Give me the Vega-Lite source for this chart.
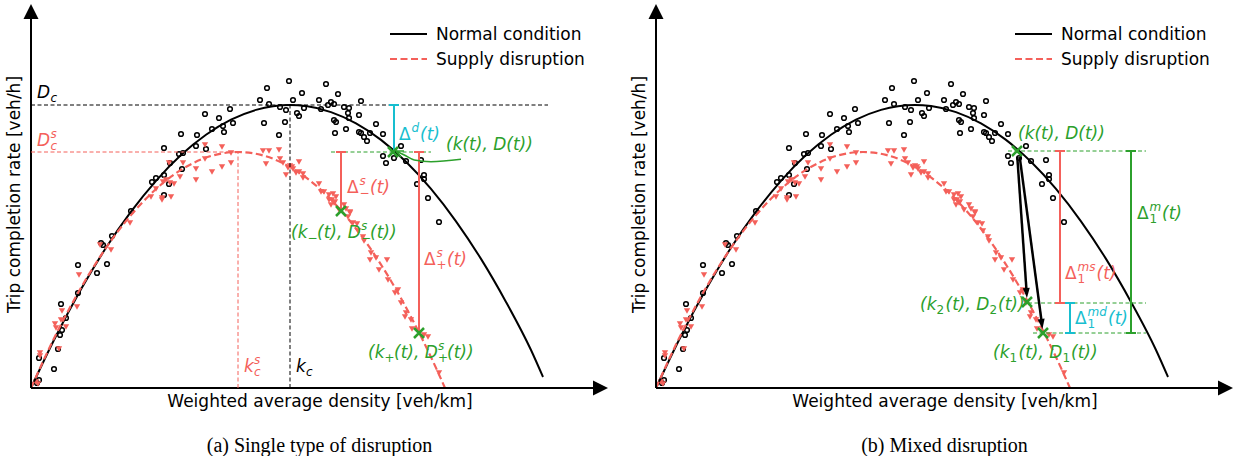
{
"$schema":"https://vega.github.io/schema/vega-lite/v6.json",
"background":"white",
"padding":{"left":5,"top":0,"right":0,"bottom":0},
"spacing":22,
"datasets":{
"normal":[{"k":0,"D":0},{"k":25,"D":52},{"k":50,"D":98.7},{"k":75,"D":140.2},{"k":100,"D":176.3},{"k":125,"D":207.2},{"k":150,"D":232.9},{"k":175,"D":253.2},{"k":200,"D":268.3},{"k":225,"D":278.1},{"k":259,"D":283},{"k":275,"D":281.9},{"k":300,"D":275.9},{"k":325,"D":264.6},{"k":350,"D":248.1},{"k":375,"D":226.2},{"k":400,"D":199.1},{"k":425,"D":166.7},{"k":450,"D":129.1},{"k":475,"D":86.1},{"k":500,"D":38},{"k":512,"D":11}],
"supply":[{"k":0,"D":0},{"k":20,"D":43.4},{"k":40,"D":82.4},{"k":60,"D":117},{"k":80,"D":147.2},{"k":100,"D":172.9},{"k":120,"D":194.3},{"k":140,"D":211.3},{"k":160,"D":223.8},{"k":180,"D":232},{"k":207,"D":236},{"k":230,"D":233.1},{"k":250,"D":225.8},{"k":270,"D":214.1},{"k":290,"D":198.1},{"k":310,"D":177.6},{"k":330,"D":152.7},{"k":350,"D":123.4},{"k":370,"D":89.7},{"k":390,"D":51.5},{"k":405,"D":20.1},{"k":414,"D":0}],
"obs_n":[{"k":258,"D":307},{"k":236,"D":300},{"k":271,"D":295},{"k":229,"D":288},{"k":238,"D":284},{"k":262,"D":288},{"k":249,"D":281},{"k":255,"D":278},{"k":273,"D":280},{"k":266,"D":275},{"k":268,"D":272},{"k":233,"D":265},{"k":254,"D":266},{"k":248,"D":253},{"k":199,"D":279},{"k":174,"D":274},{"k":188,"D":270},{"k":202,"D":265},{"k":181,"D":259},{"k":192,"D":262},{"k":193,"D":256},{"k":150,"D":254},{"k":166,"D":253},{"k":165,"D":242},{"k":175,"D":239},{"k":133,"D":240},{"k":152,"D":235},{"k":148,"D":234},{"k":139,"D":225},{"k":151,"D":219},{"k":121,"D":206},{"k":125,"D":210},{"k":133,"D":213},{"k":138,"D":204},{"k":133,"D":193},{"k":100,"D":177},{"k":70,"D":145},{"k":72,"D":143},{"k":81,"D":152},{"k":76,"D":124},{"k":66,"D":115},{"k":47,"D":123},{"k":47,"D":95},{"k":30,"D":84},{"k":35,"D":70},{"k":31,"D":58},{"k":29,"D":53},{"k":27,"D":39},{"k":23,"D":19},{"k":8,"D":8},{"k":6,"D":5},{"k":8,"D":30},{"k":295,"D":304},{"k":307,"D":294},{"k":330,"D":287},{"k":288,"D":288},{"k":300,"D":286},{"k":303,"D":284},{"k":297,"D":283},{"k":313,"D":281},{"k":318,"D":280},{"k":317,"D":275},{"k":328,"D":273},{"k":318,"D":270},{"k":303,"D":268},{"k":305,"D":266},{"k":345,"D":264},{"k":315,"D":259},{"k":328,"D":256},{"k":330,"D":255},{"k":352,"D":254},{"k":304,"D":255},{"k":333,"D":251},{"k":336,"D":247},{"k":339,"D":255},{"k":370,"D":242},{"k":352,"D":232},{"k":355,"D":225},{"k":363,"D":230},{"k":375,"D":227},{"k":390,"D":228},{"k":386,"D":204},{"k":393,"D":213},{"k":393,"D":209},{"k":397,"D":190},{"k":408,"D":166},{"k":290,"D":279}],
"obs_s":[{"k":5,"D":6},{"k":7,"D":4},{"k":9,"D":35},{"k":9,"D":32},{"k":28,"D":39},{"k":25,"D":60},{"k":30,"D":68},{"k":24,"D":64},{"k":35,"D":61},{"k":31,"D":77},{"k":46,"D":81},{"k":48,"D":113},{"k":69,"D":143},{"k":80,"D":138},{"k":99,"D":165},{"k":125,"D":199},{"k":120,"D":191},{"k":131,"D":190},{"k":131,"D":188},{"k":140,"D":191},{"k":132,"D":206},{"k":135,"D":208},{"k":143,"D":204},{"k":139,"D":205},{"k":149,"D":211},{"k":152,"D":225},{"k":138,"D":225},{"k":165,"D":208},{"k":165,"D":219},{"k":174,"D":229},{"k":174,"D":243},{"k":181,"D":216},{"k":191,"D":221},{"k":200,"D":225},{"k":191,"D":241},{"k":200,"D":235},{"k":232,"D":237},{"k":238,"D":237},{"k":248,"D":238},{"k":249,"D":229},{"k":235,"D":224},{"k":259,"D":222},{"k":255,"D":213},{"k":261,"D":221},{"k":268,"D":226},{"k":265,"D":215},{"k":272,"D":210},{"k":288,"D":204},{"k":290,"D":196},{"k":252,"D":225},{"k":257,"D":220},{"k":262,"D":219},{"k":268,"D":216},{"k":272,"D":214},{"k":293,"D":196},{"k":298,"D":193},{"k":301,"D":188},{"k":303,"D":185},{"k":308,"D":178},{"k":319,"D":176},{"k":317,"D":171},{"k":322,"D":165},{"k":327,"D":157},{"k":332,"D":151},{"k":340,"D":135},{"k":339,"D":128},{"k":345,"D":130},{"k":356,"D":128},{"k":348,"D":118},{"k":357,"D":108},{"k":367,"D":98},{"k":375,"D":75},{"k":380,"D":68},{"k":393,"D":53},{"k":397,"D":51},{"k":408,"D":15},{"k":302,"D":194},{"k":305,"D":191},{"k":298,"D":188},{"k":304,"D":186},{"k":300,"D":183},{"k":313,"D":183},{"k":315,"D":179},{"k":319,"D":175},{"k":326,"D":164},{"k":333,"D":147},{"k":364,"D":95},{"k":370,"D":85},{"k":374,"D":71},{"k":381,"D":59}],
"axes":[{"k":0,"D":0,"k2":565,"D2":0},{"k":0,"D":0,"k2":0,"D2":372}],
"legend":[{"k":405,"D":348,"txt":"Normal condition"},{"k":405,"D":323,"txt":"Supply disruption"}]
},
"hconcat":[
{
"width":577,"height":388,
"title":{"text":"(a) Single type of disruption","orient":"bottom","font":"Liberation Serif","fontSize":20,"fontWeight":"normal","color":"#000000","offset":27},
"encoding":{"x":{"field":"k","type":"quantitative","scale":{"domain":[0,577],"nice":false,"zero":false},"axis":{"title":"Weighted average density [veh/km]"}},"y":{"field":"D","type":"quantitative","scale":{"domain":[0,388],"nice":false,"zero":false},"axis":{"title":"Trip completion rate [veh/h]"}}},
"layer":[
{"data":{"name":"obs_n"},"mark":{"type":"point","shape":"circle","filled":false,"stroke":"#000000","strokeWidth":1.5,"size":22,"opacity":1}},
{"data":{"name":"obs_s"},"mark":{"type":"point","shape":"triangle-down","filled":true,"fill":"#f4605a","strokeWidth":0,"size":40,"opacity":1}},
{"data":{"name":"normal"},"mark":{"type":"line","stroke":"#000000","strokeWidth":2,"interpolate":"monotone"}},
{"data":{"name":"supply"},"mark":{"type":"line","stroke":"#f4605a","strokeWidth":2.2,"strokeDash":[7,3.5],"interpolate":"monotone"}},
{"data":{"name":"axes"},"mark":{"type":"rule","color":"#000000","strokeWidth":2},"encoding":{"x2":{"field":"k2"},"y2":{"field":"D2"}}},
{"data":{"values":[{"k":0,"D":376.5}]},"mark":{"type":"point","shape":"M0,-1L1,1L-1,1Z","filled":true,"fill":"#000000","strokeWidth":0,"size":225,"opacity":1}},
{"data":{"values":[{"k":569.5,"D":0}]},"mark":{"type":"point","shape":"M0,-1L1,1L-1,1Z","filled":true,"fill":"#000000","strokeWidth":0,"size":225,"opacity":1,"angle":90}},
{"data":{"values":[{"k":0,"D":283,"k2":517,"D2":283},{"k":259,"D":0,"k2":259,"D2":283}]},"mark":{"type":"rule","color":"#000000","strokeWidth":1,"strokeDash":[4,2.5]},"encoding":{"x2":{"field":"k2"},"y2":{"field":"D2"}}},
{"data":{"values":[{"k":0,"D":236,"k2":207,"D2":236},{"k":207,"D":0,"k2":207,"D2":236}]},"mark":{"type":"rule","color":"#f4605a","strokeWidth":1,"strokeDash":[4,2.5]},"encoding":{"x2":{"field":"k2"},"y2":{"field":"D2"}}},
{"data":{"values":[{"k":300,"D":236,"k2":400,"D2":236}]},"mark":{"type":"rule","color":"#2ca02c","strokeWidth":1,"strokeDash":[4,2.5]},"encoding":{"x2":{"field":"k2"},"y2":{"field":"D2"}}},
{"data":{"values":[{"k":363,"D":236,"k2":363,"D2":283},{"k":358,"D":283,"k2":368,"D2":283}]},"mark":{"type":"rule","color":"#17becf","strokeWidth":2},"encoding":{"x2":{"field":"k2"},"y2":{"field":"D2"}}},
{"data":{"values":[{"k":310,"D":177,"k2":310,"D2":236},{"k":305,"D":236,"k2":315,"D2":236},{"k":388,"D":55,"k2":388,"D2":236},{"k":383,"D":236,"k2":393,"D2":236}]},"mark":{"type":"rule","color":"#f4605a","strokeWidth":2},"encoding":{"x2":{"field":"k2"},"y2":{"field":"D2"}}},
{"data":{"values":[{"k":365,"D":237},{"k":373.3,"D":233},{"k":383.3,"D":228},{"k":400,"D":226.3},{"k":430,"D":228.7}]},"mark":{"type":"line","stroke":"#2ca02c","strokeWidth":1.5,"interpolate":"monotone"}},
{"data":{"values":[{"k":365,"D":237,"k2":370.1,"D2":230.8},{"k":365,"D":237,"k2":373,"D2":236.9}]},"mark":{"type":"rule","color":"#2ca02c","strokeWidth":1.5},"encoding":{"x2":{"field":"k2"},"y2":{"field":"D2"}}},
{"data":{"values":[{"k":362,"D":236},{"k":310,"D":177},{"k":388,"D":55}]},"mark":{"type":"point","shape":"M-1,-1L1,1M-1,1L1,-1","filled":false,"stroke":"#2ca02c","strokeWidth":2.5,"size":100,"opacity":1}},
{"data":{"values":[{"k":359,"D":354,"k2":396,"D2":354}]},"mark":{"type":"rule","color":"#000000","strokeWidth":2},"encoding":{"x2":{"field":"k2"},"y2":{"field":"D2"}}},
{"data":{"values":[{"k":359,"D":329,"k2":396,"D2":329}]},"mark":{"type":"rule","color":"#f4605a","strokeWidth":2.2,"strokeDash":[7,3.5]},"encoding":{"x2":{"field":"k2"},"y2":{"field":"D2"}}},
{"data":{"name":"legend"},"mark":{"type":"text","align":"left","baseline":"alphabetic","font":"DejaVu Sans","fontSize":17,"color":"#000000"},"encoding":{"text":{"field":"txt"}}},
{"data":{"values":[{"k":6,"D":290,"txt":"D"},{"k":265,"D":16,"txt":"k"}]},"mark":{"type":"text","align":"left","baseline":"alphabetic","font":"DejaVu Sans","fontStyle":"italic","fontSize":17,"color":"#000000"},"encoding":{"text":{"field":"txt"}}},
{"data":{"values":[{"k":6,"D":290,"txt":"c"}]},"mark":{"type":"text","align":"left","baseline":"alphabetic","font":"DejaVu Sans","fontStyle":"italic","fontSize":12,"color":"#000000","dx":13.5,"dy":4},"encoding":{"text":{"field":"txt"}}},
{"data":{"values":[{"k":265,"D":16,"txt":"c"}]},"mark":{"type":"text","align":"left","baseline":"alphabetic","font":"DejaVu Sans","fontStyle":"italic","fontSize":12,"color":"#000000","dx":10,"dy":4},"encoding":{"text":{"field":"txt"}}},
{"data":{"values":[{"k":6,"D":242,"txt":"D"},{"k":213,"D":16,"txt":"k"}]},"mark":{"type":"text","align":"left","baseline":"alphabetic","font":"DejaVu Sans","fontStyle":"italic","fontSize":17,"color":"#f4605a"},"encoding":{"text":{"field":"txt"}}},
{"data":{"values":[{"k":6,"D":242,"txt":"s"}]},"mark":{"type":"text","align":"left","baseline":"alphabetic","font":"DejaVu Sans","fontStyle":"italic","fontSize":12,"color":"#f4605a","dx":13.5,"dy":-8},"encoding":{"text":{"field":"txt"}}},
{"data":{"values":[{"k":6,"D":242,"txt":"c"}]},"mark":{"type":"text","align":"left","baseline":"alphabetic","font":"DejaVu Sans","fontStyle":"italic","fontSize":12,"color":"#f4605a","dx":13.5,"dy":4},"encoding":{"text":{"field":"txt"}}},
{"data":{"values":[{"k":213,"D":16,"txt":"s"}]},"mark":{"type":"text","align":"left","baseline":"alphabetic","font":"DejaVu Sans","fontStyle":"italic","fontSize":12,"color":"#f4605a","dx":10,"dy":-8},"encoding":{"text":{"field":"txt"}}},
{"data":{"values":[{"k":213,"D":16,"txt":"c"}]},"mark":{"type":"text","align":"left","baseline":"alphabetic","font":"DejaVu Sans","fontStyle":"italic","fontSize":12,"color":"#f4605a","dx":10,"dy":4},"encoding":{"text":{"field":"txt"}}},
{"data":{"values":[{"k":368,"D":248,"txt":"Δ"}]},"mark":{"type":"text","align":"left","baseline":"alphabetic","font":"DejaVu Sans","fontSize":17,"color":"#17becf"},"encoding":{"text":{"field":"txt"}}},
{"data":{"values":[{"k":368,"D":248,"txt":"d"}]},"mark":{"type":"text","align":"left","baseline":"alphabetic","font":"DejaVu Sans","fontStyle":"italic","fontSize":12,"color":"#17becf","dx":12.5,"dy":-8},"encoding":{"text":{"field":"txt"}}},
{"data":{"values":[{"k":368,"D":248,"txt":"(t)"}]},"mark":{"type":"text","align":"left","baseline":"alphabetic","font":"DejaVu Sans","fontStyle":"italic","fontSize":17,"color":"#17becf","dx":21},"encoding":{"text":{"field":"txt"}}},
{"data":{"values":[{"k":415,"D":238,"txt":"(k(t), D(t))"}]},"mark":{"type":"text","align":"left","baseline":"alphabetic","font":"DejaVu Sans","fontStyle":"italic","fontSize":17,"color":"#2ca02c"},"encoding":{"text":{"field":"txt"}}},
{"data":{"values":[{"k":316,"D":195,"txt":"Δ"},{"k":393,"D":123,"txt":"Δ"}]},"mark":{"type":"text","align":"left","baseline":"alphabetic","font":"DejaVu Sans","fontSize":17,"color":"#f4605a"},"encoding":{"text":{"field":"txt"}}},
{"data":{"values":[{"k":316,"D":195,"txt":"s"},{"k":393,"D":123,"txt":"s"}]},"mark":{"type":"text","align":"left","baseline":"alphabetic","font":"DejaVu Sans","fontStyle":"italic","fontSize":12,"color":"#f4605a","dx":12.5,"dy":-8},"encoding":{"text":{"field":"txt"}}},
{"data":{"values":[{"k":316,"D":195,"txt":"−"},{"k":393,"D":123,"txt":"+"}]},"mark":{"type":"text","align":"left","baseline":"alphabetic","font":"DejaVu Sans","fontSize":12,"color":"#f4605a","dx":12.5,"dy":4},"encoding":{"text":{"field":"txt"}}},
{"data":{"values":[{"k":316,"D":195,"txt":"(t)"},{"k":393,"D":123,"txt":"(t)"}]},"mark":{"type":"text","align":"left","baseline":"alphabetic","font":"DejaVu Sans","fontStyle":"italic","fontSize":17,"color":"#f4605a","dx":23},"encoding":{"text":{"field":"txt"}}},
{"data":{"values":[{"k":260,"D":150,"txt":"(k"},{"k":337,"D":30,"txt":"(k"}]},"mark":{"type":"text","align":"left","baseline":"alphabetic","font":"DejaVu Sans","fontStyle":"italic","fontSize":17,"color":"#2ca02c"},"encoding":{"text":{"field":"txt"}}},
{"data":{"values":[{"k":260,"D":150,"txt":"−"},{"k":337,"D":30,"txt":"+"}]},"mark":{"type":"text","align":"left","baseline":"alphabetic","font":"DejaVu Sans","fontSize":12,"color":"#2ca02c","dx":16.5,"dy":4},"encoding":{"text":{"field":"txt"}}},
{"data":{"values":[{"k":260,"D":150,"txt":"(t), D"},{"k":337,"D":30,"txt":"(t), D"}]},"mark":{"type":"text","align":"left","baseline":"alphabetic","font":"DejaVu Sans","fontStyle":"italic","fontSize":17,"color":"#2ca02c","dx":26},"encoding":{"text":{"field":"txt"}}},
{"data":{"values":[{"k":260,"D":150,"txt":"s"},{"k":337,"D":30,"txt":"s"}]},"mark":{"type":"text","align":"left","baseline":"alphabetic","font":"DejaVu Sans","fontStyle":"italic","fontSize":12,"color":"#2ca02c","dx":70,"dy":-8},"encoding":{"text":{"field":"txt"}}},
{"data":{"values":[{"k":260,"D":150,"txt":"−"},{"k":337,"D":30,"txt":"+"}]},"mark":{"type":"text","align":"left","baseline":"alphabetic","font":"DejaVu Sans","fontSize":12,"color":"#2ca02c","dx":70,"dy":4},"encoding":{"text":{"field":"txt"}}},
{"data":{"values":[{"k":260,"D":150,"txt":"(t))"},{"k":337,"D":30,"txt":"(t))"}]},"mark":{"type":"text","align":"left","baseline":"alphabetic","font":"DejaVu Sans","fontStyle":"italic","fontSize":17,"color":"#2ca02c","dx":79},"encoding":{"text":{"field":"txt"}}}
]
},
{
"width":577,"height":388,
"title":{"text":"(b) Mixed disruption","orient":"bottom","font":"Liberation Serif","fontSize":20,"fontWeight":"normal","color":"#000000","offset":27},
"encoding":{"x":{"field":"k","type":"quantitative","scale":{"domain":[0,577],"nice":false,"zero":false},"axis":{"title":"Weighted average density [veh/km]"}},"y":{"field":"D","type":"quantitative","scale":{"domain":[0,388],"nice":false,"zero":false},"axis":{"title":"Trip completion rate [veh/h]"}}},
"layer":[
{"data":{"name":"obs_n"},"mark":{"type":"point","shape":"circle","filled":false,"stroke":"#000000","strokeWidth":1.5,"size":22,"opacity":1}},
{"data":{"name":"obs_s"},"mark":{"type":"point","shape":"triangle-down","filled":true,"fill":"#f4605a","strokeWidth":0,"size":40,"opacity":1}},
{"data":{"name":"normal"},"mark":{"type":"line","stroke":"#000000","strokeWidth":2,"interpolate":"monotone"}},
{"data":{"name":"supply"},"mark":{"type":"line","stroke":"#f4605a","strokeWidth":2.2,"strokeDash":[7,3.5],"interpolate":"monotone"}},
{"data":{"name":"axes"},"mark":{"type":"rule","color":"#000000","strokeWidth":2},"encoding":{"x2":{"field":"k2"},"y2":{"field":"D2"}}},
{"data":{"values":[{"k":0,"D":376.5}]},"mark":{"type":"point","shape":"M0,-1L1,1L-1,1Z","filled":true,"fill":"#000000","strokeWidth":0,"size":225,"opacity":1}},
{"data":{"values":[{"k":569.5,"D":0}]},"mark":{"type":"point","shape":"M0,-1L1,1L-1,1Z","filled":true,"fill":"#000000","strokeWidth":0,"size":225,"opacity":1,"angle":90}},
{"data":{"values":[{"k":352,"D":237,"k2":490,"D2":237},{"k":372,"D":85,"k2":490,"D2":85},{"k":377,"D":55,"k2":490,"D2":55}]},"mark":{"type":"rule","color":"#2ca02c","strokeWidth":1,"strokeDash":[4,2.5]},"encoding":{"x2":{"field":"k2"},"y2":{"field":"D2"}}},
{"data":{"values":[{"k":404,"D":85,"k2":404,"D2":237},{"k":399,"D":237,"k2":409,"D2":237},{"k":399,"D":85,"k2":409,"D2":85}]},"mark":{"type":"rule","color":"#f4605a","strokeWidth":2},"encoding":{"x2":{"field":"k2"},"y2":{"field":"D2"}}},
{"data":{"values":[{"k":414,"D":55,"k2":414,"D2":85},{"k":409,"D":85,"k2":419,"D2":85},{"k":409,"D":55,"k2":419,"D2":55}]},"mark":{"type":"rule","color":"#17becf","strokeWidth":2},"encoding":{"x2":{"field":"k2"},"y2":{"field":"D2"}}},
{"data":{"values":[{"k":475,"D":55,"k2":475,"D2":237},{"k":470,"D":237,"k2":480,"D2":237},{"k":470,"D":55,"k2":480,"D2":55}]},"mark":{"type":"rule","color":"#2ca02c","strokeWidth":2},"encoding":{"x2":{"field":"k2"},"y2":{"field":"D2"}}},
{"data":{"values":[{"k":361.3,"D":231,"k2":370.6,"D2":96},{"k":363.7,"D":231,"k2":385.8,"D2":65}]},"mark":{"type":"rule","color":"#000000","strokeWidth":2.5},"encoding":{"x2":{"field":"k2"},"y2":{"field":"D2"}}},
{"data":{"values":[{"k":370.6,"D":95}]},"mark":{"type":"point","shape":"M0,-1L0.7,1L-0.7,1Z","filled":true,"fill":"#000000","strokeWidth":0,"size":100,"opacity":1,"angle":176}},
{"data":{"values":[{"k":385.8,"D":64}]},"mark":{"type":"point","shape":"M0,-1L0.7,1L-0.7,1Z","filled":true,"fill":"#000000","strokeWidth":0,"size":100,"opacity":1,"angle":172.5}},
{"data":{"values":[{"k":361,"D":237},{"k":371,"D":86},{"k":387,"D":55}]},"mark":{"type":"point","shape":"M-1,-1L1,1M-1,1L1,-1","filled":false,"stroke":"#2ca02c","strokeWidth":2.5,"size":100,"opacity":1}},
{"data":{"values":[{"k":359,"D":354,"k2":396,"D2":354}]},"mark":{"type":"rule","color":"#000000","strokeWidth":2},"encoding":{"x2":{"field":"k2"},"y2":{"field":"D2"}}},
{"data":{"values":[{"k":359,"D":329,"k2":396,"D2":329}]},"mark":{"type":"rule","color":"#f4605a","strokeWidth":2.2,"strokeDash":[7,3.5]},"encoding":{"x2":{"field":"k2"},"y2":{"field":"D2"}}},
{"data":{"name":"legend"},"mark":{"type":"text","align":"left","baseline":"alphabetic","font":"DejaVu Sans","fontSize":17,"color":"#000000"},"encoding":{"text":{"field":"txt"}}},
{"data":{"values":[{"k":362,"D":249,"txt":"(k(t), D(t))"}]},"mark":{"type":"text","align":"left","baseline":"alphabetic","font":"DejaVu Sans","fontStyle":"italic","fontSize":17,"color":"#2ca02c"},"encoding":{"text":{"field":"txt"}}},
{"data":{"values":[{"k":481,"D":169,"txt":"Δ"}]},"mark":{"type":"text","align":"left","baseline":"alphabetic","font":"DejaVu Sans","fontSize":17,"color":"#2ca02c"},"encoding":{"text":{"field":"txt"}}},
{"data":{"values":[{"k":481,"D":169,"txt":"m"}]},"mark":{"type":"text","align":"left","baseline":"alphabetic","font":"DejaVu Sans","fontStyle":"italic","fontSize":12,"color":"#2ca02c","dx":12.5,"dy":-8},"encoding":{"text":{"field":"txt"}}},
{"data":{"values":[{"k":481,"D":169,"txt":"1"}]},"mark":{"type":"text","align":"left","baseline":"alphabetic","font":"DejaVu Sans","fontSize":12,"color":"#2ca02c","dx":12.5,"dy":4},"encoding":{"text":{"field":"txt"}}},
{"data":{"values":[{"k":481,"D":169,"txt":"(t)"}]},"mark":{"type":"text","align":"left","baseline":"alphabetic","font":"DejaVu Sans","fontStyle":"italic","fontSize":17,"color":"#2ca02c","dx":25},"encoding":{"text":{"field":"txt"}}},
{"data":{"values":[{"k":409,"D":109,"txt":"Δ"}]},"mark":{"type":"text","align":"left","baseline":"alphabetic","font":"DejaVu Sans","fontSize":17,"color":"#f4605a"},"encoding":{"text":{"field":"txt"}}},
{"data":{"values":[{"k":409,"D":109,"txt":"ms"}]},"mark":{"type":"text","align":"left","baseline":"alphabetic","font":"DejaVu Sans","fontStyle":"italic","fontSize":12,"color":"#f4605a","dx":12.5,"dy":-8},"encoding":{"text":{"field":"txt"}}},
{"data":{"values":[{"k":409,"D":109,"txt":"1"}]},"mark":{"type":"text","align":"left","baseline":"alphabetic","font":"DejaVu Sans","fontSize":12,"color":"#f4605a","dx":12.5,"dy":4},"encoding":{"text":{"field":"txt"}}},
{"data":{"values":[{"k":409,"D":109,"txt":"(t)"}]},"mark":{"type":"text","align":"left","baseline":"alphabetic","font":"DejaVu Sans","fontStyle":"italic","fontSize":17,"color":"#f4605a","dx":31.5},"encoding":{"text":{"field":"txt"}}},
{"data":{"values":[{"k":419,"D":64,"txt":"Δ"}]},"mark":{"type":"text","align":"left","baseline":"alphabetic","font":"DejaVu Sans","fontSize":17,"color":"#17becf"},"encoding":{"text":{"field":"txt"}}},
{"data":{"values":[{"k":419,"D":64,"txt":"md"}]},"mark":{"type":"text","align":"left","baseline":"alphabetic","font":"DejaVu Sans","fontStyle":"italic","fontSize":12,"color":"#17becf","dx":12.5,"dy":-8},"encoding":{"text":{"field":"txt"}}},
{"data":{"values":[{"k":419,"D":64,"txt":"1"}]},"mark":{"type":"text","align":"left","baseline":"alphabetic","font":"DejaVu Sans","fontSize":12,"color":"#17becf","dx":12.5,"dy":4},"encoding":{"text":{"field":"txt"}}},
{"data":{"values":[{"k":419,"D":64,"txt":"(t)"}]},"mark":{"type":"text","align":"left","baseline":"alphabetic","font":"DejaVu Sans","fontStyle":"italic","fontSize":17,"color":"#17becf","dx":33},"encoding":{"text":{"field":"txt"}}},
{"data":{"values":[{"k":264,"D":78,"txt":"(k"},{"k":337,"D":30,"txt":"(k"}]},"mark":{"type":"text","align":"left","baseline":"alphabetic","font":"DejaVu Sans","fontStyle":"italic","fontSize":17,"color":"#2ca02c"},"encoding":{"text":{"field":"txt"}}},
{"data":{"values":[{"k":264,"D":78,"txt":"2"},{"k":337,"D":30,"txt":"1"}]},"mark":{"type":"text","align":"left","baseline":"alphabetic","font":"DejaVu Sans","fontSize":12,"color":"#2ca02c","dx":16.5,"dy":4},"encoding":{"text":{"field":"txt"}}},
{"data":{"values":[{"k":264,"D":78,"txt":"(t), D"},{"k":337,"D":30,"txt":"(t), D"}]},"mark":{"type":"text","align":"left","baseline":"alphabetic","font":"DejaVu Sans","fontStyle":"italic","fontSize":17,"color":"#2ca02c","dx":25.5},"encoding":{"text":{"field":"txt"}}},
{"data":{"values":[{"k":264,"D":78,"txt":"2"},{"k":337,"D":30,"txt":"1"}]},"mark":{"type":"text","align":"left","baseline":"alphabetic","font":"DejaVu Sans","fontSize":12,"color":"#2ca02c","dx":69.5,"dy":4},"encoding":{"text":{"field":"txt"}}},
{"data":{"values":[{"k":264,"D":78,"txt":"(t))"},{"k":337,"D":30,"txt":"(t))"}]},"mark":{"type":"text","align":"left","baseline":"alphabetic","font":"DejaVu Sans","fontStyle":"italic","fontSize":17,"color":"#2ca02c","dx":78},"encoding":{"text":{"field":"txt"}}}
]
}
],
"config":{
"view":{"stroke":null},
"axis":{"domain":false,"ticks":false,"labels":false,"grid":false,"titleFont":"DejaVu Sans","titleFontSize":17,"titleFontWeight":"normal","titleColor":"#000000"},
"axisX":{"titlePadding":5},
"axisY":{"titlePadding":8}
}
}
